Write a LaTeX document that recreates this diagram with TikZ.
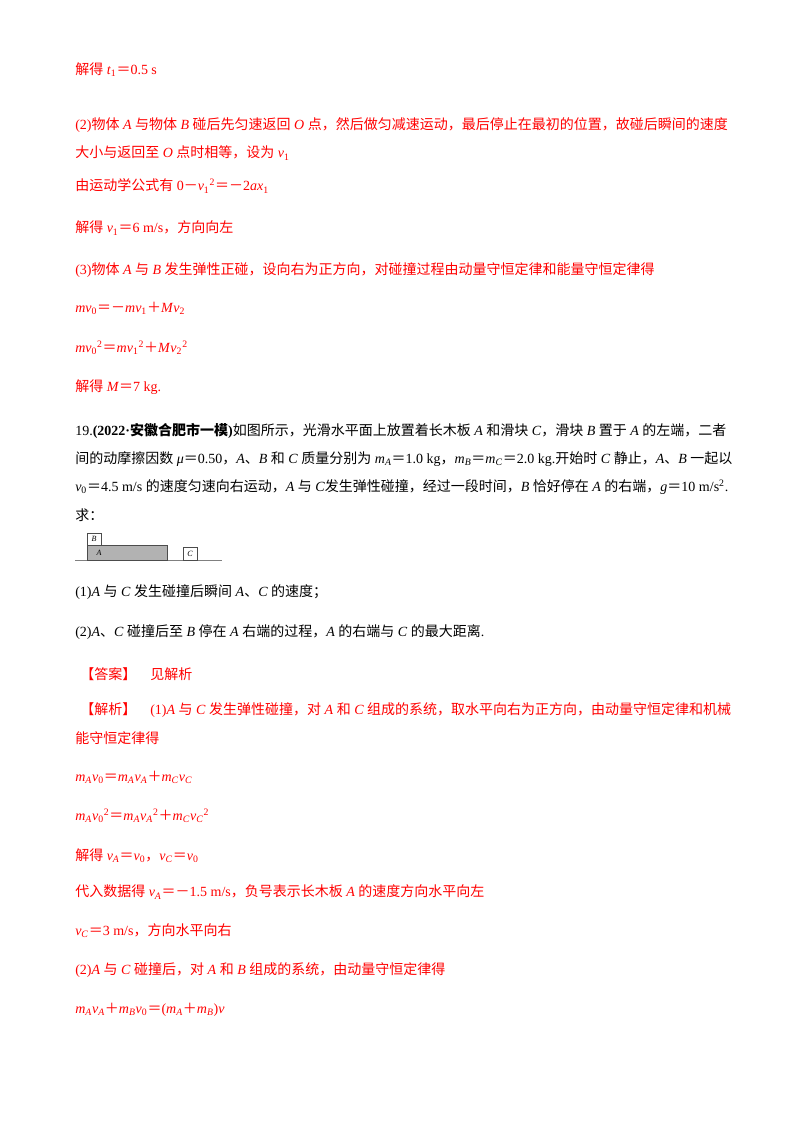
\documentclass[tikz,border=0pt]{standalone}
\usepackage{fontspec}
\setmainfont{Liberation Serif}
\newfontfamily\cjk{Noto Sans CJK SC}
\newXeTeXintercharclass\cjkclass
\count255="3000
\loop\XeTeXcharclass\count255=\cjkclass\advance\count255 1 \ifnum\count255<"A000\repeat
\count255="FF00
\loop\XeTeXcharclass\count255=\cjkclass\advance\count255 1 \ifnum\count255<"FFF0\repeat
\XeTeXinterchartoks 0 \cjkclass={\cjk}
\XeTeXinterchartoks 4095 \cjkclass={\cjk}
\XeTeXinterchartoks \cjkclass 0={\rmfamily}
\XeTeXinterchartoks \cjkclass 4095={\rmfamily}
\XeTeXinterchartokenstate=1
\newcommand\iv[1]{\textit{#1}}
\newcommand\vv[1]{\textit{v}\textsubscript{#1}}
\newcommand\mm[1]{\textit{m}\textsubscript{\textit{#1}}}
\tikzset{ln/.style={anchor=west,inner sep=0pt,font=\fontsize{10.5}{12}\selectfont},
 rl/.style={ln,text=red}}
\begin{document}
\begin{tikzpicture}[x=0.75pt,y=-0.75pt]
\useasboundingbox[fill=white] (0,0) rectangle (800,1132);
\node[rl] (l1) at (75,70) {解得 \iv{t}\textsubscript{1}＝0.5 s};
\node[rl] (l2) at (75,125) {(2)物体 \iv{A} 与物体 \iv{B} 碰后先匀速返回 \iv{O} 点，然后做匀减速运动，最后停止在最初的位置，故碰后瞬间的速度};
\node[rl] (l3) at (75,153) {大小与返回至 \iv{O} 点时相等，设为 \vv{1}};
\node[rl] (l4) at (75,186) {由运动学公式有 0－\vv{1}\textsuperscript{2}＝－2\iv{a}\iv{x}\textsubscript{1}};
\node[rl] (l5) at (75,228) {解得 \vv{1}＝6 m/s，方向向左};
\node[rl] (l6) at (75,270) {(3)物体 \iv{A} 与 \iv{B} 发生弹性正碰，设向右为正方向，对碰撞过程由动量守恒定律和能量守恒定律得};
\node[rl] (l7) at (75,308) {\iv{m}\vv{0}＝－\iv{m}\vv{1}＋\iv{M}\vv{2}};
\node[rl] (l8) at (75,348) {\iv{m}\vv{0}\textsuperscript{2}＝\iv{m}\vv{1}\textsuperscript{2}＋\iv{M}\vv{2}\textsuperscript{2}};
\node[rl] (l9) at (75,387) {解得 \iv{M}＝7 kg.};
\node[ln] (q1) at (75,431) {19.\textbf{(2022·安徽合肥市一模)}如图所示，光滑水平面上放置着长木板 \iv{A} 和滑块 \iv{C}，滑块 \iv{B} 置于 \iv{A} 的左端，二者};
\node[ln] (q2) at (75,459) {间的动摩擦因数 \iv{μ}＝0.50，\iv{A}、\iv{B} 和 \iv{C} 质量分别为 \mm{A}＝1.0 kg，\mm{B}＝\mm{C}＝2.0 kg.开始时 \iv{C} 静止，\iv{A}、\iv{B} 一起以};
\node[ln] (q3) at (75,487) {\vv{0}＝4.5 m/s 的速度匀速向右运动，\iv{A} 与 \iv{C}发生弹性碰撞，经过一段时间，\iv{B} 恰好停在 \iv{A} 的右端，\iv{g}＝10 m/s\textsuperscript{2}.};
\node[ln] (q4) at (75,515) {求：};
% figure
\draw[line width=0.6pt,gray] (75,560) -- (222,560);
\draw[fill=gray!60,draw=black!70,line width=0.5pt] (87,545) rectangle (167,560);
\node[font=\fontsize{6}{7}\selectfont\itshape] (A) at (99,553) {A};
\draw[fill=white,draw=black!70,line width=0.5pt] (87,533) rectangle (101,545);
\node[font=\fontsize{6}{7}\selectfont\itshape] (B) at (94,539) {B};
\draw[fill=white,draw=black!70,line width=0.5pt] (183,547) rectangle (197,560);
\node[font=\fontsize{6}{7}\selectfont\itshape] (C) at (190,553.5) {C};
\node[ln] (s1) at (75,592) {(1)\iv{A} 与 \iv{C} 发生碰撞后瞬间 \iv{A}、\iv{C} 的速度；};
\node[ln] (s2) at (75,632) {(2)\iv{A}、\iv{C} 碰撞后至 \iv{B} 停在 \iv{A} 右端的过程，\iv{A} 的右端与 \iv{C} 的最大距离.};
\node[rl] (a1) at (80,674) {【答案】\quad 见解析};
\node[rl] (a2) at (80,710) {【解析】\quad (1)\iv{A} 与 \iv{C} 发生弹性碰撞，对 \iv{A} 和 \iv{C} 组成的系统，取水平向右为正方向，由动量守恒定律和机械};
\node[rl] (a3) at (75,738) {能守恒定律得};
\node[rl] (a4) at (75,777) {\mm{A}\vv{0}＝\mm{A}\vv{\textit{A}}＋\mm{C}\vv{\textit{C}}};
\node[rl] (a5) at (75,816) {\mm{A}\vv{0}\textsuperscript{2}＝\mm{A}\vv{\textit{A}}\textsuperscript{2}＋\mm{C}\vv{\textit{C}}\textsuperscript{2}};
\node[rl] (a6) at (75,856) {解得 \vv{\textit{A}}＝\vv{0}，\vv{\textit{C}}＝\vv{0}};
\node[rl] (a7) at (75,892) {代入数据得 \vv{\textit{A}}＝－1.5 m/s，负号表示长木板 \iv{A} 的速度方向水平向左};
\node[rl] (a8) at (75,931) {\vv{\textit{C}}＝3 m/s，方向水平向右};
\node[rl] (a9) at (75,970) {(2)\iv{A} 与 \iv{C} 碰撞后，对 \iv{A} 和 \iv{B} 组成的系统，由动量守恒定律得};
\node[rl] (a10) at (75,1010) {\mm{A}\vv{\textit{A}}＋\mm{B}\vv{0}＝(\mm{A}＋\mm{B})\iv{v}};
\end{tikzpicture}
\end{document}
